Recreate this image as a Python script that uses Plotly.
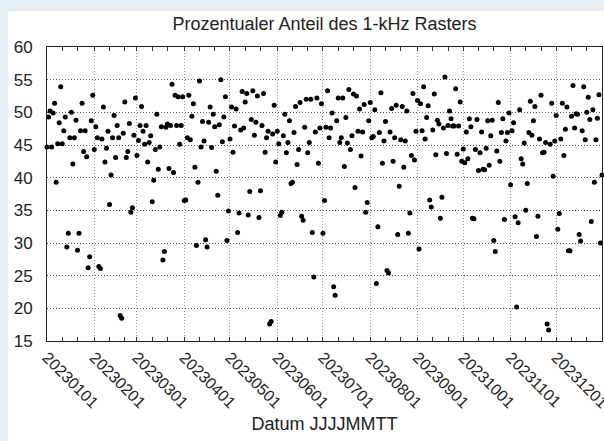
import pandas as pd
import plotly.graph_objects as go

# Daily values (percent), one list per month of 2023
jan = [44.7, 49.3, 50.2, 44.7, 49.9, 51.4, 39.3, 45.2, 48.4, 53.9,
       45.2, 47.2, 49.3, 29.4, 31.5, 46.1, 50.0, 42.1, 46.1, 48.8,
       28.9, 31.5, 47.2, 51.4, 44.0, 47.2, 43.2, 26.2, 27.9, 48.7, 52.6]
feb = [44.3, 47.8, 46.1, 26.4, 26.1, 45.9, 50.8, 42.4, 44.5, 47.1,
       35.9, 40.4, 46.1, 49.5, 43.1, 48.0, 46.1, 18.9, 18.5, 46.8,
       51.6, 43.1, 44.0, 48.3, 34.7, 35.4, 46.5, 52.2]
mar = [43.4, 45.7, 48.0, 50.9, 47.1, 45.1, 48.0, 42.4, 45.4, 46.4,
       36.3, 39.6, 44.3, 49.7, 41.3, 44.7, 47.8, 27.4, 28.7, 47.7,
       48.2, 41.4, 48.0, 54.3, 40.8, 52.6, 48.0, 52.4, 45.1, 48.0, 52.4]
apr = [36.5, 36.6, 46.1, 52.6, 45.8, 49.4, 51.3, 41.6, 29.6, 39.3,
       54.8, 44.7, 48.6, 45.6, 30.5, 29.4, 48.5, 50.8, 44.6, 49.7,
       47.8, 41.0, 37.3, 48.1, 55.0, 45.5, 49.3, 52.4, 30.4, 34.9]
may = [45.9, 50.8, 43.9, 47.9, 50.5, 31.6, 34.6, 47.3, 53.2, 47.6,
       51.6, 52.9, 34.3, 37.9, 48.9, 53.3, 46.5, 48.5, 52.5, 33.9,
       38.0, 48.0, 52.9, 43.9, 46.1, 47.1, 17.6, 18.0, 46.7, 51.1, 42.4]
jun = [47.1, 45.2, 34.2, 34.7, 46.4, 49.7, 43.8, 45.4, 48.7, 39.1,
       39.3, 46.9, 50.9, 42.0, 44.3, 51.5, 34.1, 33.5, 47.7, 52.0,
       43.8, 45.4, 52.0, 31.6, 24.8, 47.0, 52.2, 42.2, 47.6, 51.3]
jul = [31.5, 36.5, 47.7, 53.3, 46.1, 47.6, 49.9, 23.3, 22.0, 48.7,
       52.2, 45.4, 46.1, 52.2, 41.7, 49.2, 45.3, 53.5, 44.3, 46.4,
       52.8, 38.5, 52.5, 47.1, 50.5, 43.3, 47.0, 51.2, 34.7, 36.2, 48.7]
aug = [51.5, 46.1, 46.3, 50.4, 23.8, 32.5, 46.9, 53.0, 42.2, 45.6,
       48.6, 25.8, 25.4, 47.0, 50.6, 42.5, 46.1, 51.1, 31.3, 38.7,
       45.8, 50.9, 41.6, 45.6, 50.2, 31.5, 34.6, 43.4, 52.9, 42.7, 47.1]
sep = [51.8, 29.1, 51.3, 47.2, 53.9, 45.9, 49.2, 51.0, 36.6, 35.5,
       47.3, 52.8, 43.5, 48.8, 48.2, 33.8, 37.0, 47.6, 55.4, 43.7,
       48.0, 50.2, 49.0, 47.9, 47.9, 53.6, 43.6, 47.9, 51.6, 42.5]
oct = [44.4, 42.3, 47.0, 42.9, 49.0, 47.8, 33.8, 33.7, 44.3, 48.9,
       41.1, 43.8, 47.0, 41.3, 41.2, 44.5, 48.7, 41.9, 46.4, 48.8,
       30.4, 28.7, 44.1, 51.5, 42.5, 46.9, 49.0, 33.6, 45.6, 46.9, 49.9]
nov = [38.9, 47.2, 48.4, 34.0, 20.2, 33.1, 50.4, 42.9, 42.1, 45.3,
       35.0, 39.1, 46.9, 51.7, 46.5, 48.7, 50.9, 31.0, 34.1, 45.9,
       52.6, 43.8, 43.9, 45.4, 17.6, 16.7, 45.1, 51.4, 40.2, 45.6]
dec = [49.5, 32.1, 34.5, 45.9, 51.4, 43.4, 47.4, 50.8, 28.8, 28.8,
       49.4, 54.1, 47.6, 49.8, 49.7, 31.3, 30.3, 47.2, 53.9, 45.8,
       50.0, 52.3, 48.9, 33.3, 50.4, 39.3, 45.8, 49.1, 52.7, 30.0, 40.4]

months = [jan, feb, mar, apr, may, jun, jul, aug, sep, oct, nov, dec]
values = [v for m in months for v in m]
dates = pd.date_range("2023-01-01", periods=len(values), freq="D")

title_text = "Prozentualer Anteil des 1-kHz Rasters"
x_title = "Datum JJJJMMTT"
y_ticks = [15, 20, 25, 30, 35, 40, 45, 50, 55, 60]

# minor tick positions: 11th and 21st of each month
minor_vals = [f"2023-{m:02d}-{d:02d}" for m in range(1, 13) for d in (11, 21)]

FONT = "Arial, Liberation Sans, sans-serif"
BG = "#e4edf4"
W, H = 604, 441
L, R, T, B = 47, 2, 47, 100
pw, ph = W - L - R, H - T - B

fig = go.Figure()
fig.add_trace(go.Scatter(
    x=dates, y=values, mode="markers",
    marker=dict(color="black", size=5),
    cliponaxis=False, showlegend=False,
))

# white panel on light blue page
fig.add_shape(type="rect", xref="paper", yref="paper",
              x0=(8 - L) / pw, x1=1.2, y0=-0.6, y1=(H - B - 11) / ph,
              fillcolor="white", line=dict(width=0), layer="below")

fig.update_layout(
    width=W, height=H,
    margin=dict(l=L, r=R, t=T, b=B, autoexpand=False),
    paper_bgcolor=BG,
    plot_bgcolor="white",
    font=dict(family=FONT, size=16, color="#222"),
    title=dict(text=title_text, x=(L + pw / 2) / W, xanchor="center",
               y=1 - 24 / H, yanchor="middle",
               font=dict(size=18, color="#222")),
    xaxis=dict(
        type="date",
        range=["2023-01-01", "2023-12-31"],
        tick0="2023-01-01", dtick="M1", tickformat="%Y%m%d",
        tickangle=45, automargin=False, ticklabeloverflow="allow",
        ticks="inside", ticklen=4, tickcolor="#333",
        showgrid=True, gridcolor="#999", griddash="1px,2px", gridwidth=1,
        minor=dict(tickmode="array", tickvals=minor_vals, ticks="inside",
                   ticklen=4, tickcolor="#333", showgrid=False),
        showline=True, linecolor="#222", linewidth=1, mirror="allticks",
        zeroline=False,
        tickfont=dict(size=16, color="#222"),
        title=dict(text=x_title, font=dict(size=18, color="#222"), standoff=7),
    ),
    yaxis=dict(
        range=[15, 60], automargin=False,
        tickvals=y_ticks,
        ticks="", ticklabelstandoff=10,
        showgrid=True, gridcolor="#555", griddash="1px,2px", gridwidth=1,
        showline=True, linecolor="#222", linewidth=1, mirror=True,
        zeroline=False,
        tickfont=dict(size=17, color="#222"),
    ),
)

fig.write_html(
    "out.html",
    config={"displayModeBar": False},
    post_script="document.body.style.margin='0';"
                "document.body.style.background='" + BG + "';",
)
